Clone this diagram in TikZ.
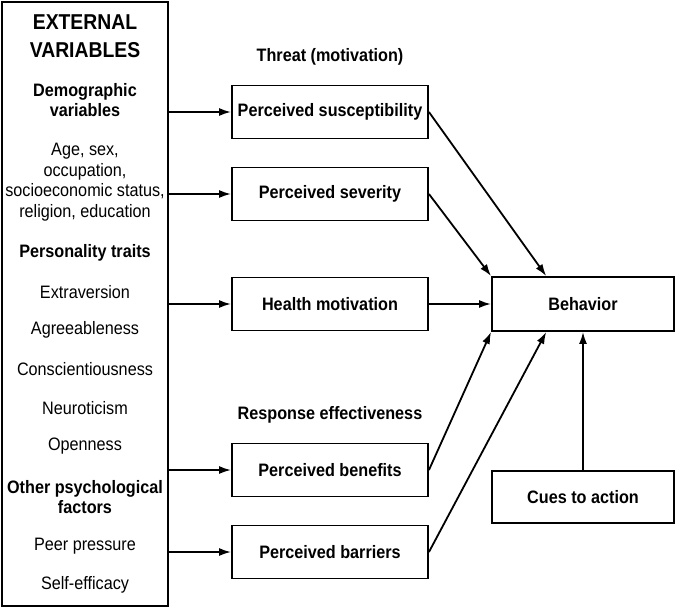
\documentclass[tikz,border=0pt]{standalone}
\usepackage{fontspec}
\setmainfont[FakeStretch=0.9]{Liberation Sans}
\usetikzlibrary{arrows.meta}
\usetikzlibrary{calc}

\begin{document}
\begin{tikzpicture}
 [ x=1pt, y=-1pt
 , box/.style={draw, line width=1.9pt, minimum width=196pt, minimum height=53pt, inner sep=0pt, font=\bfseries\fontsize{18}{19}\selectfont}
 , outcome/.style={box, minimum width=182pt}
 , plain/.style={align=center, inner sep=0pt, font=\fontsize{18}{20.5}\selectfont}
 , heading/.style={plain, font=\bfseries\fontsize{18}{20.5}\selectfont}
 , link/.style={-{Latex[length=12pt,width=8pt]}, line width=1.8pt}
 ]
  \useasboundingbox (0,0) rectangle (677,610);

  % external variables
  \node [draw, line width=1.9pt, minimum width=166pt, minimum height=604pt] (ext) at (85,304) {};
  \node [plain, font=\bfseries\fontsize{21.5}{28}\selectfont] (title) at (85,36) {EXTERNAL\\VARIABLES};
  \node [heading] (demo) at (85,100) {Demographic\\variables};
  \node [plain] (age) at (85,182) {Age, sex,\\occupation,\\socioeconomic status,\\religion, education};
  \node [heading] (pers) at (85,253) {Personality traits};
  \node [plain] (extra) at (85,292) {Extraversion};
  \node [plain] (agree) at (85,330) {Agreeableness};
  \node [plain] (consc) at (85,369) {Conscientiousness};
  \node [plain] (neuro) at (85,408) {Neuroticism};
  \node [plain] (open) at (85,446) {Openness};
  \node [heading] (other) at (85,497) {Other psychological\\factors};
  \node [plain] (peer) at (85,546) {Peer pressure};
  \node [plain] (self) at (85,585) {Self-efficacy};

  % perceptions
  \node [heading] (threat) at (330,57) {Threat (motivation)};
  \node [box] (sus) at (330,112) {Perceived susceptibility};
  \node [box] (sev) at (330,194) {Perceived severity};
  \node [box] (mot) at (330,304) {Health motivation};
  \node [heading] (resp) at (330,415) {Response effectiveness};
  \node [box] (ben) at (330,470) {Perceived benefits};
  \node [box] (bar) at (330,552) {Perceived barriers};

  % outcome
  \node [outcome, minimum height=54pt] (beh) at (583,304) {Behavior};
  \node [outcome, minimum height=52pt] (cues) at (583,497) {Cues to action};

  \foreach \n in {sus, sev, mot, ben, bar}
    \draw [link] (ext.east |- \n.west) -- (\n.west);

  \draw [link] (sus.east) -- ($(beh.north west)!0.3!(beh.north east)$);
  \draw [link] (sev.east) -- (beh.north west);
  \draw [link] (mot.east) -- (beh.west);
  \draw [link] (ben.east) -- (beh.south west);
  \draw [link] (bar.east) -- ($(beh.south west)!0.3!(beh.south east)$);
  \draw [link] (cues.north) -- (beh.south);
\end{tikzpicture}
\end{document}
